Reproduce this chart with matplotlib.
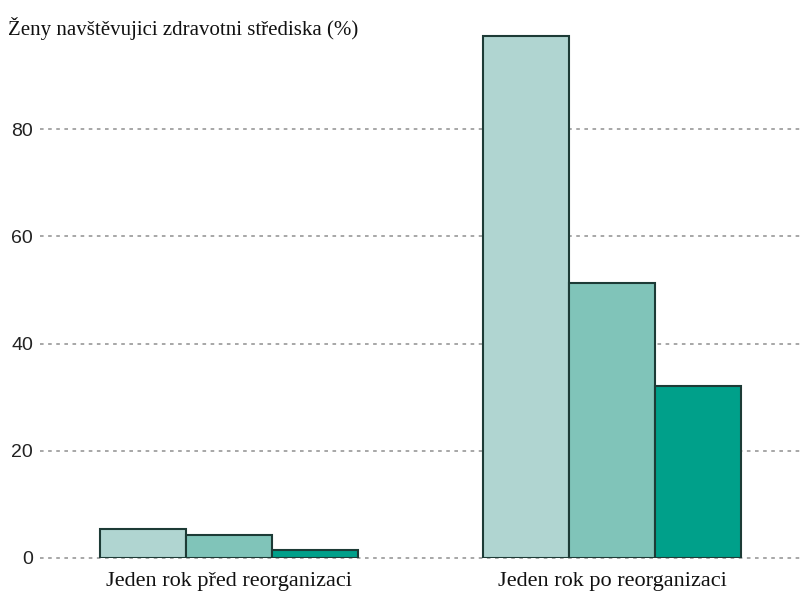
import matplotlib.pyplot as plt
import numpy as np

# data
groups = ['Jeden rok před reorganizaci', 'Jeden rok po reorganizaci']
series_a = [5.4, 97.4]
series_b = [4.3, 51.3]
series_c = [1.5, 32.1]
colors = ['#b0d5d1', '#80c4b9', '#00a08a']
yticks = [0, 20, 40, 60, 80]

fig = plt.figure(figsize=(8.02, 5.91), dpi=100)
ax = fig.add_axes([40 / 802, 33 / 591, 760 / 802, 528 / 591])

x = np.arange(len(groups))
w = 0.2245
for i, (vals, c) in enumerate(zip([series_a, series_b, series_c], colors)):
    ax.bar(x + (i - 1) * w, vals, width=w, color=c, edgecolor='#1d3b36',
           linewidth=1.5, zorder=3)

ax.set_xlim(-0.4935, 1.491)
ax.set_ylim(0, 98.5)

# dotted horizontal grid
for t in yticks:
    ax.axhline(t, color='#a0a0a0', linestyle=(0, (2, 2.5)), linewidth=1.3,
               zorder=1, clip_on=False)

ax.set_yticks(yticks)
ax.set_yticklabels([str(t) for t in yticks], family='Liberation Sans',
                   fontsize=14, color='#222222')
ax.tick_params(axis='y', length=0, pad=5)
ax.set_xticks(x)
ax.set_xticklabels(groups, family='Liberation Serif', fontsize=16,
                   color='#111111')
ax.tick_params(axis='x', length=0, pad=10)

for s in ax.spines.values():
    s.set_visible(False)

fig.text(8 / 802, 1 - 29 / 591, 'Ženy navštěvujici zdravotni střediska (%)',
         family='Liberation Serif', fontsize=15, color='#111111', va='center')

fig.savefig('out.png', dpi=100)
